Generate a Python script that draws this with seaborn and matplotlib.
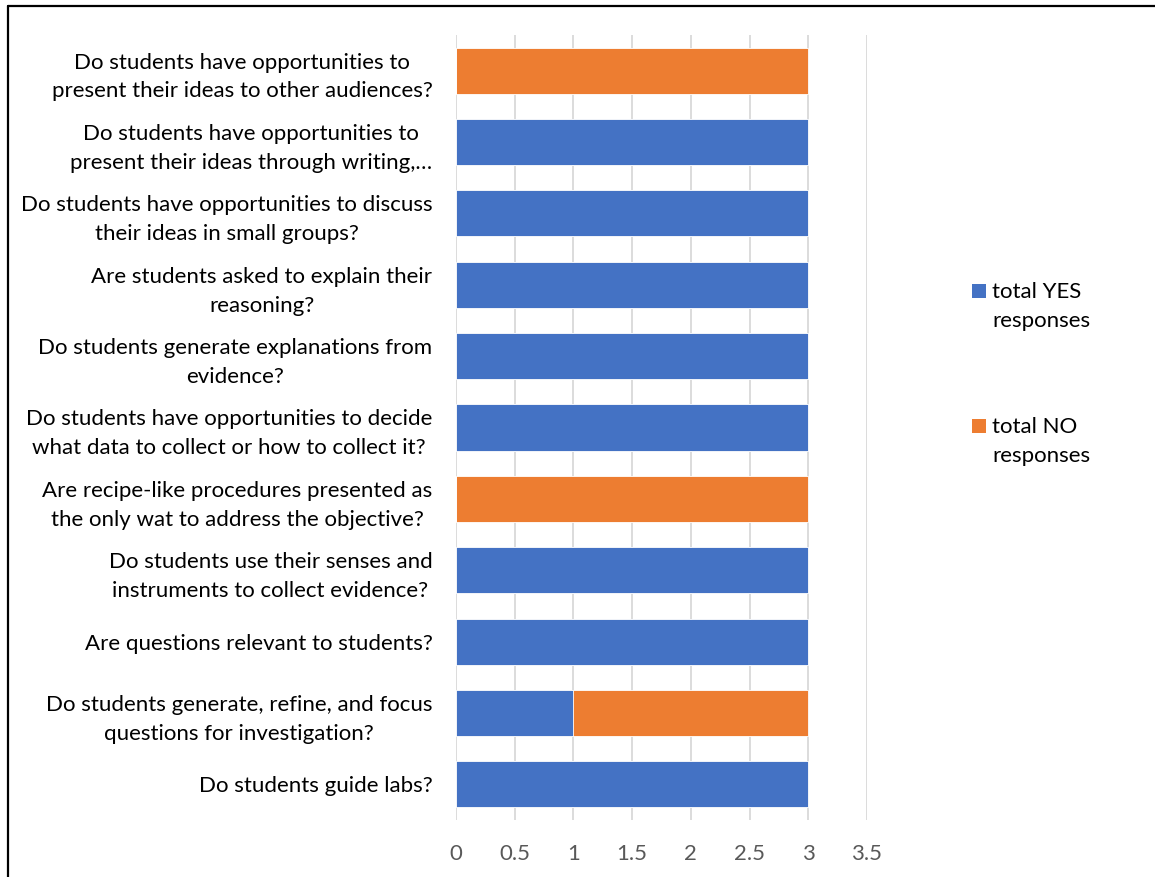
import pandas as pd
import matplotlib.pyplot as plt
import seaborn as sns
from matplotlib.patches import Rectangle
from matplotlib.lines import Line2D

questions = [
    "Do students have opportunities to\npresent their ideas to other audiences?",
    "Do students have opportunities to\npresent their ideas through writing,…",
    "Do students have opportunities to discuss\ntheir ideas in small groups?",
    "Are students asked to explain their\nreasoning?",
    "Do students generate explanations from\nevidence?",
    "Do students have opportunities to decide\nwhat data to collect or how to collect it?",
    "Are recipe-like procedures presented as\nthe only wat to address the objective?",
    "Do students use their senses and\ninstruments to collect evidence?",
    "Are questions relevant to students?",
    "Do students generate, refine, and focus\nquestions for investigation?",
    "Do students guide labs?",
]
yes_counts = [0, 3, 3, 3, 3, 3, 0, 3, 3, 1, 3]
no_counts = [3, 0, 0, 0, 0, 0, 3, 0, 0, 2, 0]
x_ticks = [0, 0.5, 1, 1.5, 2, 2.5, 3, 3.5]

BLUE = "#4472C4"
ORANGE = "#ED7D31"
FS = 16

df = pd.DataFrame({"question": questions, "yes": yes_counts, "no": no_counts})
df["total"] = df["yes"] + df["no"]

sns.set_style("white")
plt.rcParams["font.family"] = ["Lato", "DejaVu Sans"]

fig = plt.figure(figsize=(11.55, 8.77), dpi=100)
ax = fig.add_axes([456 / 1155, 1 - 820 / 877, (867 - 456) / 1155, (820 - 35) / 877])

# stacked bars: total (orange) underneath, YES (blue) on top
sns.barplot(data=df, y="question", x="total", color=ORANGE, width=0.645,
            saturation=1, ax=ax, orient="h", edgecolor="white", linewidth=0.6)
sns.barplot(data=df, y="question", x="yes", color=BLUE, width=0.645,
            saturation=1, ax=ax, orient="h", edgecolor="white", linewidth=0.6)

ax.set_xlim(0, 3.5)
ax.set_ylim(10.5, -0.5)
ax.set_xticks(x_ticks)
ax.set_xticklabels([f"{t:g}" for t in x_ticks])
ax.set_xlabel("")
ax.set_ylabel("")
ax.grid(axis="x", color="#d9d9d9", linewidth=1.3)
ax.set_axisbelow(True)
for s in ax.spines.values():
    s.set_visible(False)
ax.tick_params(axis="y", length=0, pad=17, labelsize=FS, labelcolor="#000000")
ax.tick_params(axis="x", length=0, pad=17, labelsize=FS, labelcolor="#595959")
for lbl in ax.get_yticklabels():
    lbl.set_multialignment("center")
    lbl.set_linespacing(1.55)

# legend drawn by hand so squares line up with the first text line
legend_items = [("total YES\nresponses", BLUE, 284), ("total NO\nresponses", ORANGE, 419)]
for label, col, ytop in legend_items:
    fig.patches.append(Rectangle((972 / 1155, 1 - (ytop + 14) / 877), 14 / 1155, 14 / 877,
                                 transform=fig.transFigure, facecolor=col, edgecolor="none"))
    fig.text(992 / 1155, 1 - (ytop - 2) / 877, label, ha="left", va="top",
             fontsize=FS, color="#000000", linespacing=1.55)

# chart frame (only left and top edges fall inside the image)
fig.lines.append(Line2D([8 / 1155, 8 / 1155], [0, 1 - 6 / 877], transform=fig.transFigure,
                        color="black", linewidth=1.6))
fig.lines.append(Line2D([8 / 1155, 1], [1 - 6 / 877, 1 - 6 / 877], transform=fig.transFigure,
                        color="black", linewidth=1.6))

fig.savefig("out.png", dpi=100)
plt.close(fig)
